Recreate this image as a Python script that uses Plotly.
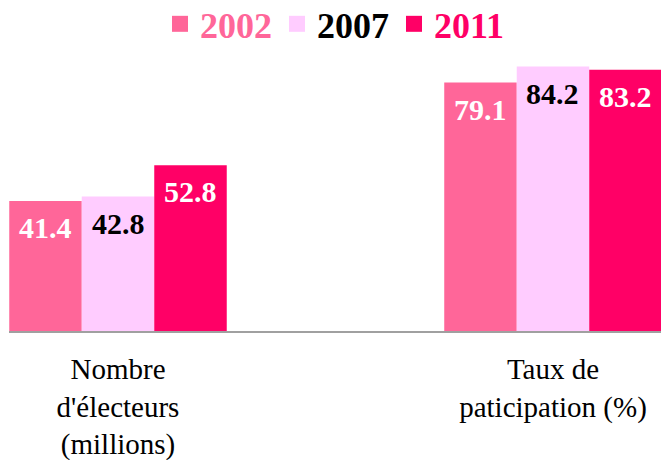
import plotly.graph_objects as go

categories = ["Nombre<br>d'électeurs<br>(millions)", "Taux de<br>paticipation (%)"]
years = ["2002", "2007", "2011"]
values = {
    "2002": [41.4, 79.1],
    "2007": [42.8, 84.2],
    "2011": [52.8, 83.2],
}
colors = {"2002": "#FF6699", "2007": "#FFCCFF", "2011": "#FF0066"}
label_colors = {"2002": "white", "2007": "black", "2011": "white"}
legend_text_colors = {"2002": "#FF6699", "2007": "black", "2011": "#FF0066"}

FONT = "Liberation Serif"
xpos = list(range(len(categories)))
BARGAP = 0.5
n = len(years)
bar_w = (1 - BARGAP) / n

fig = go.Figure()
for i, y in enumerate(years):
    fig.add_trace(go.Bar(
        x=xpos, y=values[y], name=y, showlegend=False,
        marker=dict(color=colors[y], line=dict(width=0)),
        hoverinfo="skip",
    ))
    off = (i - (n - 1) / 2) * bar_w
    for xv, v in zip(xpos, values[y]):
        fig.add_annotation(
            x=xv + off, y=v, xref="x", yref="y", text=f"<b>{v}</b>",
            showarrow=False, yanchor="top", yshift=-8,
            font=dict(family=FONT, size=30, color=label_colors[y]),
        )
for y in years:
    fig.add_trace(go.Scatter(
        x=[None], y=[None], mode="markers",
        name=f"<span style='color:{legend_text_colors[y]}'><b>{y}</b></span>",
        marker=dict(symbol="square", size=20, color=colors[y]),
    ))

fig.update_layout(
    width=661, height=460,
    margin=dict(l=9, r=0, t=60, b=129, autoexpand=False),
    paper_bgcolor="white", plot_bgcolor="white",
    barmode="group", bargap=BARGAP, bargroupgap=0,
    font=dict(family=FONT, color="black"),
    legend=dict(orientation="h", x=0.5, xanchor="center", yref="container",
                y=0.948, yanchor="middle", font=dict(family=FONT, size=36),
                itemwidth=30, tracegroupgap=0, bgcolor="rgba(0,0,0,0)"),
    xaxis=dict(tickmode="array", tickvals=xpos, ticktext=categories,
               range=[-0.25057, 1.2483], showgrid=False, zeroline=False,
               showline=True, linecolor="#A0A0A0", linewidth=2,
               tickfont=dict(family=FONT, size=29, color="black"),
               ticks="", ticklabelstandoff=11),
    yaxis=dict(range=[0, 86.3], visible=False, showgrid=False, zeroline=False),
)
fig.write_html("out.html", config={"displayModeBar": False},
               post_script="document.body.style.margin='0';")
